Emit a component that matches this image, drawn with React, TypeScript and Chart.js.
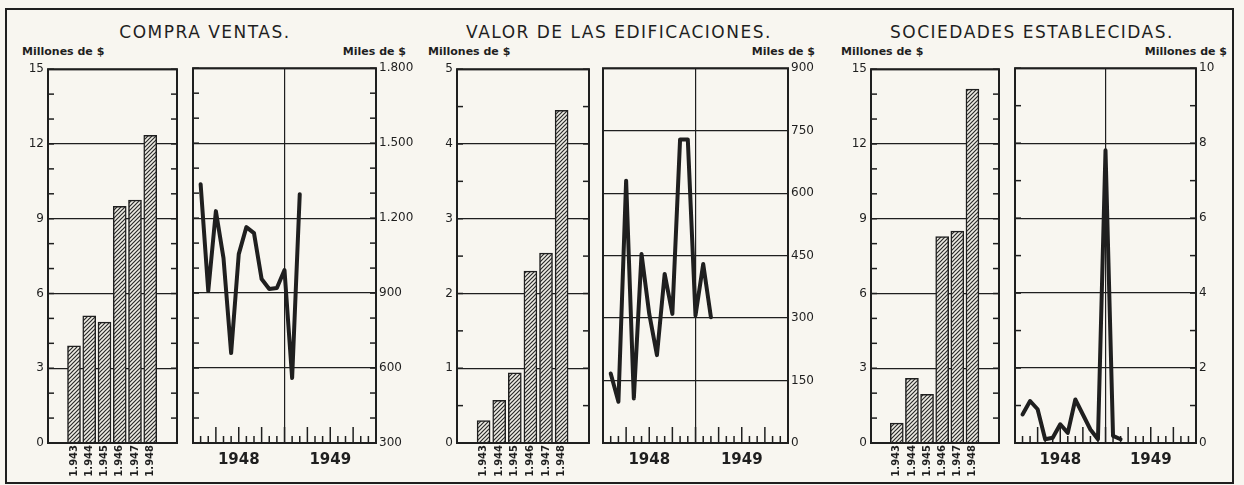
import React, { useEffect, useRef } from 'react';
import { Chart, registerables } from 'chart.js';

Chart.register(...registerables);

// ---------- data ----------
const yearLabels = ['1.943', '1.944', '1.945', '1.946', '1.947', '1.948'];
const monthTickValues = [6, 12, 18];
const monthTickLabels = ['1948', '', '1949'];

const compraAnual = [3.9, 5.1, 4.85, 9.5, 9.75, 12.35];
const compraMensual = [1336, 908, 1228, 1040, 660, 1056, 1164, 1140, 956, 916, 920, 992, 560, 1296];

const edifAnual = [0.3, 0.57, 0.94, 2.3, 2.54, 4.45];
const edifMensual = [167, 99, 630, 107, 454, 310, 211, 406, 310, 729, 729, 306, 430, 302];

const socAnual = [0.8, 2.6, 1.95, 8.28, 8.5, 14.2];
const socMensual = [0.76, 1.12, 0.9, 0.1, 0.14, 0.5, 0.27, 1.16, 0.76, 0.36, 0.1, 7.81, 0.19, 0.1];

// ---------- style ----------
const INK = '#1f1f1f';
const PAPER = '#f8f6f0';
const FONT = 'DejaVu Sans';

const fmtThousands = (v: number) => {
  if (v >= 1000) {
    const t = Math.floor(v / 1000);
    const r = Math.round(v % 1000);
    return `${t}.${String(r).padStart(3, '0')}`;
  }
  return String(v);
};

const framePlugin = {
  id: 'frame',
  afterDatasetsDraw(chart: any, _args: any, opts: any) {
    const { ctx, chartArea: a, scales } = chart;
    ctx.save();
    ctx.strokeStyle = INK;
    ctx.lineCap = 'butt';
    const line = (x1: number, y1: number, x2: number, y2: number) => {
      ctx.beginPath();
      ctx.moveTo(x1, y1);
      ctx.lineTo(x2, y2);
      ctx.stroke();
    };
    ctx.lineWidth = 1.5;
    const ys = scales.y;
    if (opts.yMinor) {
      for (let v = ys.min; v <= ys.max + 1e-9; v += opts.yMinor) {
        const p = ys.getPixelForValue(v);
        line(a.left, p, a.left + 6, p);
        line(a.right, p, a.right - 6, p);
      }
    }
    const xs = scales.x;
    if (opts.xMinor) {
      for (let v = xs.min + opts.xMinor; v < xs.max - 1e-9; v += opts.xMinor) {
        const p = xs.getPixelForValue(v);
        const len = Math.round(v) % opts.xMajorEvery === 0 ? 16 : 7;
        line(p, a.bottom, p, a.bottom - len);
      }
    }
    ctx.lineWidth = 2;
    ctx.strokeRect(a.left, a.top, a.right - a.left, a.bottom - a.top);
    ctx.restore();
  },
};

function makeHatch(ctx: CanvasRenderingContext2D) {
  const c = document.createElement('canvas');
  c.width = 4;
  c.height = 4;
  const g = c.getContext('2d')!;
  g.fillStyle = '#eeece4';
  g.fillRect(0, 0, 4, 4);
  g.strokeStyle = '#2a2a2a';
  g.lineWidth = 1.2;
  g.beginPath();
  g.moveTo(0, 4);
  g.lineTo(4, 0);
  g.moveTo(-1, 1);
  g.lineTo(1, -1);
  g.moveTo(3, 5);
  g.lineTo(5, 3);
  g.stroke();
  return ctx.createPattern(c, 'repeat');
}

type BarSpec = {
  kind: 'bar';
  values: number[];
  yMax: number;
  yStep: number;
  yMinor: number;
  axisWidth: number;
  padRight: number;
};
type LineSpec = {
  kind: 'line';
  values: number[];
  yMin: number;
  yMax: number;
  yStep: number;
  yMinor: number;
  axisWidth: number;
  padLeft: number;
};

function buildConfig(spec: BarSpec | LineSpec, ctx: CanvasRenderingContext2D): any {
  const tickFont = { family: FONT, size: 12 };
  if (spec.kind === 'bar') {
    return {
      type: 'bar',
      data: {
        datasets: [
          {
            data: spec.values.map((v, i) => ({ x: i, y: v })),
            backgroundColor: makeHatch(ctx),
            borderColor: INK,
            borderWidth: 1.5,
            borderSkipped: 'bottom',
            barThickness: 13,
          },
        ],
      },
      options: {
        responsive: false,
        animation: false,
        layout: { padding: { top: 9, right: spec.padRight, left: 0, bottom: 0 } },
        plugins: {
          legend: { display: false },
          tooltip: { enabled: false },
          frame: { yMinor: spec.yMinor },
        },
        scales: {
          x: {
            type: 'linear',
            min: -1,
            max: 6.05,
            afterBuildTicks: (s: any) => {
              s.ticks = yearLabels.map((_, i) => ({ value: i }));
            },
            afterFit: (s: any) => {
              s.height = 42;
            },
            ticks: {
              autoSkip: false,
              minRotation: 90,
              maxRotation: 90,
              padding: -6,
              color: INK,
              font: { family: FONT, size: 10, weight: 'bold' },
              callback: (_v: any, i: number) => yearLabels[i] ?? '',
            },
            grid: { display: false },
            border: { display: false },
          },
          y: {
            type: 'linear',
            position: 'left',
            min: 0,
            max: spec.yMax,
            afterFit: (s: any) => {
              s.width = spec.axisWidth;
            },
            ticks: { stepSize: spec.yStep, padding: 4, color: INK, font: tickFont },
            grid: { color: INK, lineWidth: 1.2, drawTicks: false },
            border: { display: false },
          },
        },
      },
      plugins: [framePlugin],
    };
  }
  return {
    type: 'line',
    data: {
      datasets: [
        {
          data: spec.values.map((v, i) => ({ x: i + 1, y: v })),
          borderColor: INK,
          borderWidth: 4,
          pointRadius: 0,
          tension: 0,
          borderJoinStyle: 'round',
          borderCapStyle: 'round',
          fill: false,
        },
      ],
    },
    options: {
      responsive: false,
      animation: false,
      layout: { padding: { top: 9, right: 0, left: spec.padLeft, bottom: 0 } },
      plugins: {
        legend: { display: false },
        tooltip: { enabled: false },
        frame: { yMinor: spec.yMinor, xMinor: 1, xMajorEvery: 3 },
      },
      scales: {
        x: {
          type: 'linear',
          min: 0,
          max: 24,
          afterBuildTicks: (s: any) => {
            s.ticks = monthTickValues.map((v) => ({ value: v }));
          },
          afterFit: (s: any) => {
            s.height = 42;
          },
          ticks: {
            autoSkip: false,
            maxRotation: 0,
            padding: 8,
            color: INK,
            font: { family: FONT, size: 15, weight: 'bold' },
            callback: (_v: any, i: number) => monthTickLabels[i] ?? '',
          },
          grid: {
            color: (c: any) => (c.tick && c.tick.value === 12 ? INK : 'rgba(0,0,0,0)'),
            lineWidth: 1.2,
            drawTicks: false,
          },
          border: { display: false },
        },
        y: {
          type: 'linear',
          position: 'right',
          min: spec.yMin,
          max: spec.yMax,
          afterFit: (s: any) => {
            s.width = spec.axisWidth;
          },
          ticks: {
            stepSize: spec.yStep,
            padding: 3,
            color: INK,
            font: tickFont,
            callback: (v: any) => fmtThousands(Number(v)),
          },
          grid: { color: INK, lineWidth: 1.2, drawTicks: false },
          border: { display: false },
        },
      },
    },
    plugins: [framePlugin],
  };
}

function Panel(props: { left: number; top: number; width: number; height: number; spec: BarSpec | LineSpec }) {
  const ref = useRef<HTMLCanvasElement | null>(null);
  useEffect(() => {
    const canvas = ref.current!;
    const ctx = canvas.getContext('2d')!;
    const chart = new Chart(ctx, buildConfig(props.spec, ctx));
    return () => chart.destroy();
  }, []);
  return (
    <canvas
      ref={ref}
      width={props.width}
      height={props.height}
      style={{ position: 'absolute', left: props.left, top: props.top, width: props.width, height: props.height }}
    />
  );
}

const TOP = 58;
const H = 485 - TOP;

const titleStyle: React.CSSProperties = {
  position: 'absolute',
  top: 21,
  width: 400,
  textAlign: 'center',
  fontFamily: FONT,
  fontSize: 17,
  letterSpacing: 1.5,
  lineHeight: '22px',
  color: INK,
  whiteSpace: 'nowrap',
};
const unitStyle: React.CSSProperties = {
  position: 'absolute',
  top: 45,
  fontFamily: FONT,
  fontSize: 11,
  fontWeight: 'bold',
  lineHeight: '14px',
  color: INK,
  whiteSpace: 'nowrap',
};

export default function App() {
  return (
    <div
      style={{
        position: 'fixed',
        left: 0,
        top: 0,
        width: 1244,
        height: 485,
        background: PAPER,
        overflow: 'hidden',
      }}
    >
      <div
        style={{
          position: 'absolute',
          left: 5,
          top: 8,
          width: 1229,
          height: 476,
          border: `2px solid ${INK}`,
          boxSizing: 'border-box',
        }}
      />
      <div style={{ ...titleStyle, left: 205 - 200 }}>COMPRA VENTAS.</div>
      <div style={{ ...titleStyle, left: 619 - 200 }}>VALOR DE LAS EDIFICACIONES.</div>
      <div style={{ ...titleStyle, left: 1032 - 200 }}>SOCIEDADES ESTABLECIDAS.</div>

      <div style={{ ...unitStyle, left: 22 }}>Millones de $</div>
      <div style={{ ...unitStyle, right: 1244 - 406 }}>Miles de $</div>
      <div style={{ ...unitStyle, left: 428 }}>Millones de $</div>
      <div style={{ ...unitStyle, right: 1244 - 815 }}>Miles de $</div>
      <div style={{ ...unitStyle, left: 841 }}>Millones de $</div>
      <div style={{ ...unitStyle, right: 1244 - 1227 }}>Millones de $</div>

      <Panel left={2} top={TOP} width={180} height={H}
        spec={{ kind: 'bar', values: compraAnual, yMax: 15, yStep: 3, yMinor: 1, axisWidth: 46, padRight: 5 }} />
      <Panel left={186} top={TOP} width={234} height={H}
        spec={{ kind: 'line', values: compraMensual, yMin: 300, yMax: 1800, yStep: 300, yMinor: 100, axisWidth: 44, padLeft: 7 }} />
      <Panel left={420} top={TOP} width={174} height={H}
        spec={{ kind: 'bar', values: edifAnual, yMax: 5, yStep: 1, yMinor: 0.5, axisWidth: 37, padRight: 5 }} />
      <Panel left={596} top={TOP} width={240} height={H}
        spec={{ kind: 'line', values: edifMensual, yMin: 0, yMax: 900, yStep: 150, yMinor: 0, axisWidth: 48, padLeft: 7 }} />
      <Panel left={836} top={TOP} width={168} height={H}
        spec={{ kind: 'bar', values: socAnual, yMax: 15, yStep: 3, yMinor: 1, axisWidth: 35, padRight: 5 }} />
      <Panel left={1008} top={TOP} width={222} height={H}
        spec={{ kind: 'line', values: socMensual, yMin: 0, yMax: 10, yStep: 2, yMinor: 1, axisWidth: 34, padLeft: 7 }} />
    </div>
  );
}
